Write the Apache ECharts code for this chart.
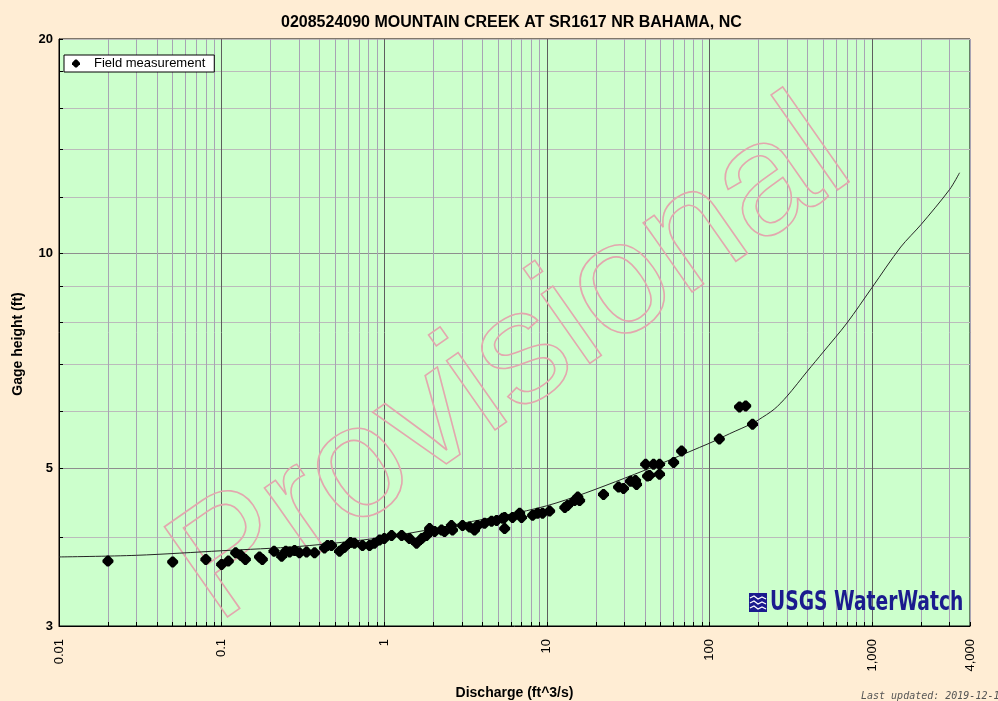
<!DOCTYPE html>
<html><head><meta charset="utf-8">
<script src="https://cdn.jsdelivr.net/npm/echarts@6/dist/echarts.min.js"></script>
<style>html,body{margin:0;padding:0;background:#FFEDD4;}#c{width:998px;height:701px;}</style>
</head><body><div id="c"></div>
<script>
const chartTitle = '0208524090 MOUNTAIN CREEK AT SR1617 NR BAHAMA, NC';
const xName = 'Discharge (ft^3/s)';
const yName = 'Gage height (ft)';
const seriesMeasName = 'Field measurement';

// Field measurements: discharge (ft^3/s) and gage height (ft)
const measQ = [0.02,0.05,0.08,0.1,0.11,0.122,0.131,0.14,0.171,0.178,0.21,0.234,0.248,0.262,0.281,0.301,0.333,0.373,0.429,0.448,0.474,0.531,0.57,0.62,0.656,0.735,0.812,0.871,0.936,1.0,1.11,1.28,1.43,1.58,1.7,1.82,1.9,2.04,2.25,2.35,2.59,2.63,3.03,3.35,3.59,3.75,4.14,4.57,4.91,5.34,5.5,5.5,6.15,6.8,6.99,8.17,8.77,9.41,10.4,12.9,13.4,14.8,15.5,15.9,22.3,27.6,29.6,32.7,35.1,35.6,40.5,41.6,42.8,45.3,49.3,49.3,60.2,67.4,115,153,167,184];
const measGH = [3.70,3.69,3.72,3.66,3.70,3.80,3.77,3.72,3.75,3.72,3.82,3.76,3.82,3.81,3.83,3.80,3.81,3.80,3.86,3.89,3.89,3.82,3.87,3.93,3.92,3.89,3.89,3.92,3.96,3.98,4.02,4.02,3.98,3.92,3.98,4.02,4.11,4.07,4.09,4.07,4.15,4.09,4.15,4.13,4.09,4.15,4.18,4.21,4.22,4.25,4.11,4.26,4.26,4.32,4.26,4.29,4.32,4.32,4.35,4.40,4.43,4.50,4.55,4.50,4.59,4.70,4.68,4.79,4.80,4.74,5.06,4.87,4.88,5.06,4.90,5.06,5.09,5.28,5.49,6.09,6.11,5.76];

// Rating curve
const ratingQ = [0.01,0.03,0.1,0.3,1,3,10,30,100,133,184,200,250,300,400,500,700,1000,1500,2000,3000,3450];
const ratingGH = [3.75,3.77,3.826,3.88,3.997,4.18,4.425,4.836,5.416,5.585,5.775,5.84,6.045,6.305,6.836,7.27,7.985,8.96,10.21,10.98,12.3,12.98];

// Axis ticks / labels
const xTickValues = [0.01,0.02,0.03,0.04,0.05,0.06,0.07,0.08,0.09,
  0.1,0.2,0.3,0.4,0.5,0.6,0.7,0.8,0.9,
  1,2,3,4,5,6,7,8,9,
  10,20,30,40,50,60,70,80,90,
  100,200,300,400,500,600,700,800,900,
  1000,2000,3000,4000];
const xLabelValues = [0.01,0.1,1,10,100,1000,4000];
const yTickValues = [3,4,5,6,7,8,9,10,12,14,16,18,20];
const yLabelValues = [3,5,10,20];

const FONT = '"Liberation Sans", Arial, sans-serif';
const markerPath = 'path://M4,0 L6,0 L10,4 L10,6 L6,10 L4,10 L0,6 L0,4 Z';

const xMajor = '#5E5E5E', xMinor = '#A8A3B4';
const xLineColors = [xMajor, xMinor, xMinor, xMinor, xMinor, xMinor, xMinor, xMinor, xMinor];
const hMajor = '#8E8E8E', hMinor = '#BBBBBB';
const yLineColors = [hMinor, hMinor, hMajor, hMinor, hMinor, hMinor, hMinor, hMajor, hMinor, hMinor, hMinor, hMinor, hMinor];

const measData = measQ.map((q, i) => [q, measGH[i]]);
const ratingData = ratingQ.map((q, i) => [q, ratingGH[i]]);

const chart = echarts.init(document.getElementById('c'), null, {renderer: 'canvas'});
chart.setOption({
  animation: false,
  backgroundColor: '#FFEDD4',
  title: {
    text: chartTitle, left: 276, top: 10,
    textStyle: {fontFamily: FONT, fontSize: 16, fontWeight: 'bold', color: '#000'}
  },
  legend: {
    left: 64, top: 55, selectedMode: false,
    backgroundColor: '#fff', borderColor: '#000', borderWidth: 1, borderRadius: 0,
    padding: [2, 9, 2, 8], itemWidth: 8, itemHeight: 8,
    textStyle: {fontFamily: FONT, fontSize: 13, color: '#000', padding: [0, 0, 0, 9]},
    data: [{name: seriesMeasName, icon: markerPath}]
  },
  grid: {
    left: 59, right: 28, top: 39, bottom: 75,
    show: true, backgroundColor: '#CCFFCC', borderColor: '#000', borderWidth: 1,
    containLabel: false, outerBoundsMode: 'none'
  },
  xAxis: {
    type: 'log', logBase: 10, min: 0.01, max: 4000,
    name: xName, nameLocation: 'middle', nameGap: 60,
    nameTextStyle: {fontFamily: FONT, fontSize: 14, fontWeight: 'bold', color: '#000'},
    axisLine: {show: true, lineStyle: {color: '#000', width: 1}},
    axisTick: {show: true, inside: true, length: 4, customValues: xTickValues, lineStyle: {color: '#000'}},
    minorTick: {show: false},
    axisLabel: {
      customValues: xLabelValues, rotate: 90, margin: 13,
      fontFamily: FONT, fontSize: 13, color: '#000',
      formatter: v => v >= 1000 ? Number(v).toLocaleString('en-US') : String(v)
    },
    splitLine: {show: true, lineStyle: {color: xLineColors, width: 1}}
  },
  yAxis: {
    type: 'log', logBase: 10, min: 3, max: 20,
    name: yName, nameLocation: 'middle', nameGap: 34, nameRotate: 90,
    nameTextStyle: {fontFamily: FONT, fontSize: 14, fontWeight: 'bold', color: '#000', padding: [0, 23, 0, 0]},
    axisLine: {show: true, lineStyle: {color: '#000', width: 1}},
    axisTick: {show: true, inside: true, length: 4, customValues: yTickValues, lineStyle: {color: '#000'}},
    axisLabel: {customValues: yLabelValues, margin: 6, fontFamily: FONT, fontSize: 13, fontWeight: 'bold', color: '#000'},
    splitLine: {show: true, lineStyle: {color: yLineColors, width: 1}}
  },
  series: [
    {
      name: 'Rating', type: 'line', data: ratingData, showSymbol: false, symbol: 'none',
      smooth: 0.3, z: 3, silent: true,
      lineStyle: {color: '#262626', width: 1}
    },
    {
      name: seriesMeasName, type: 'scatter', data: measData, z: 4,
      symbol: markerPath, symbolSize: 11,
      itemStyle: {color: '#000', opacity: 1}
    }
  ],
  graphic: [
    {
      type: 'text', x: 512, y: 364, rotation: 35 * Math.PI / 180, z: 1, silent: true,
      style: {
        text: 'Provisional', font: '160px "Liberation Sans", Arial, sans-serif',
        fill: 'rgba(0,0,0,0)', stroke: '#E3A7AE', lineWidth: 1.6,
        align: 'center', verticalAlign: 'middle'
      }
    },
    {type: 'rect', x: 749, y: 593, z: 5, shape: {width: 18, height: 19}, style: {fill: '#1B1B8E'}},
    {type: 'polyline', x: 749, y: 593, z: 6, shape: {points: [[1,5],[5,3],[9,6],[13,4],[17,6]]}, style: {stroke: '#fff', lineWidth: 1.2, fill: null}},
    {type: 'polyline', x: 749, y: 593, z: 6, shape: {points: [[1,10],[5,8],[9,11],[13,9],[17,11]]}, style: {stroke: '#fff', lineWidth: 1.2, fill: null}},
    {type: 'polyline', x: 749, y: 593, z: 6, shape: {points: [[1,15],[5,13],[9,16],[13,14],[17,16]]}, style: {stroke: '#fff', lineWidth: 1.2, fill: null}},
    {
      type: 'text', x: 770, y: 603, z: 5, scaleX: 0.8,
      style: {text: 'USGS WaterWatch', font: 'bold 26px "Liberation Sans Narrow", "DejaVu Sans Condensed", sans-serif', fill: '#1B1B8E', verticalAlign: 'middle'}
    },
    {
      type: 'text', x: 861, y: 696, z: 5,
      style: {text: 'Last updated: 2019-12-1', font: 'italic 10px "DejaVu Sans Mono", monospace', fill: '#555', verticalAlign: 'middle'}
    }
  ]
});
</script>
</body></html>
